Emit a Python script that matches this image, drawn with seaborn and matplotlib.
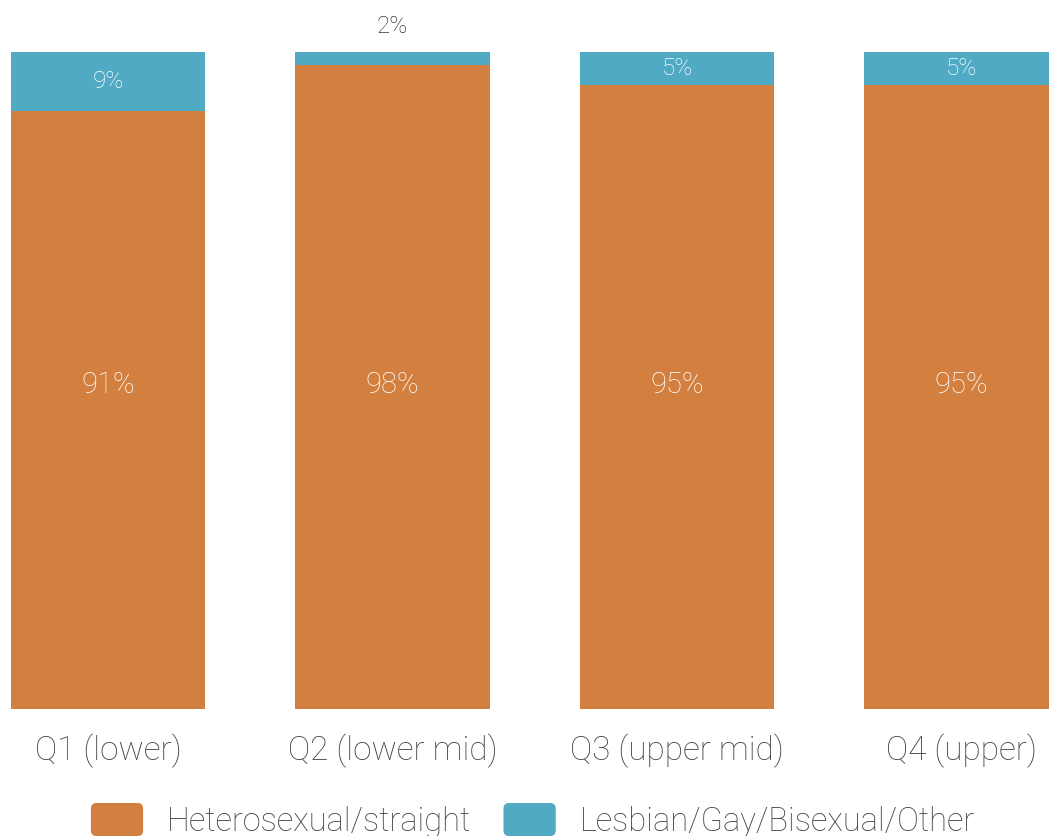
import matplotlib
matplotlib.use("Agg")
import matplotlib.pyplot as plt
from matplotlib.patches import Patch, FancyBboxPatch
from matplotlib.legend_handler import HandlerPatch
import seaborn as sns
import pandas as pd

# Share of respondents by sexual orientation within each income quartile (%)
quartiles = ["Q1 (lower)", "Q2 (lower mid)", "Q3 (upper mid)", "Q4 (upper)"]
straight = [91, 98, 95, 95]
lgbo = [9, 2, 5, 5]
series_names = ["Heterosexual/straight", "Lesbian/Gay/Bisexual/Other"]

ORANGE = "#D37F3F"
BLUE = "#51AAC4"
TEXT = "#444444"

sns.set_theme(style="white")
plt.rcParams["font.family"] = ["Roboto", "DejaVu Sans"]
plt.rcParams["font.weight"] = "light"

df = pd.DataFrame({
    "quartile": quartiles,
    "straight": straight,
    "total": [a + b for a, b in zip(straight, lgbo)],
})

fig = plt.figure(figsize=(10.49, 8.36), dpi=100)
ax = fig.add_axes([0.0, 127 / 836, 1.0, 709 / 836])

# Stacked bars: full total in blue underneath, straight share in orange on top of it
sns.barplot(data=df, x="quartile", y="total", color=BLUE, width=0.682,
            saturation=1, ax=ax, linewidth=0)
sns.barplot(data=df, x="quartile", y="straight", color=ORANGE, width=0.682,
            saturation=1, ax=ax, linewidth=0)

ax.set_xlim(-108 / 284.5, (1049 - 108) / 284.5)
ax.set_ylim(0, 100 * 709 / 657)
ax.set_xlabel("")
ax.set_ylabel("")
ax.set_yticks([])
for s in ax.spines.values():
    s.set_visible(False)
ax.tick_params(axis="x", length=0, pad=18, labelsize=24, labelcolor=TEXT)
for t in ax.get_xticklabels():
    t.set_fontweight("light")

# Value labels
for i, (s, o) in enumerate(zip(straight, lgbo)):
    ax.text(i, 49.3, f"{s}%", ha="center", va="center", color="white",
            fontsize=21, fontweight="light")
    if o >= 4:
        ax.text(i, s + o / 2, f"{o}%", ha="center", va="center", color="white",
                fontsize=17.5, fontweight="light")
    else:
        ax.text(i, s + o + 3.9, f"{o}%", ha="center", va="center", color="#333333",
                fontsize=17.5, fontweight="light")


class RoundedHandler(HandlerPatch):
    def create_artists(self, legend, orig_handle, xdescent, ydescent, width,
                       height, fontsize, trans):
        p = FancyBboxPatch((-xdescent, -ydescent), width, height,
                           boxstyle="round,pad=0,rounding_size=4",
                           facecolor=orig_handle.get_facecolor(),
                           edgecolor="none", transform=trans)
        return [p]


handles = [Patch(facecolor=ORANGE), Patch(facecolor=BLUE)]
leg = fig.legend(handles, series_names, loc="upper center",
                 bbox_to_anchor=(533 / 1049, 33 / 836), ncol=2, frameon=False,
                 fontsize=23.5, handlelength=1.6, handleheight=1.18,
                 handletextpad=0.74, columnspacing=0.98, borderpad=0,
                 borderaxespad=0,
                 handler_map={Patch: RoundedHandler()})
for t in leg.get_texts():
    t.set_color(TEXT)
    t.set_fontweight("light")

fig.savefig("out.png", dpi=100)
